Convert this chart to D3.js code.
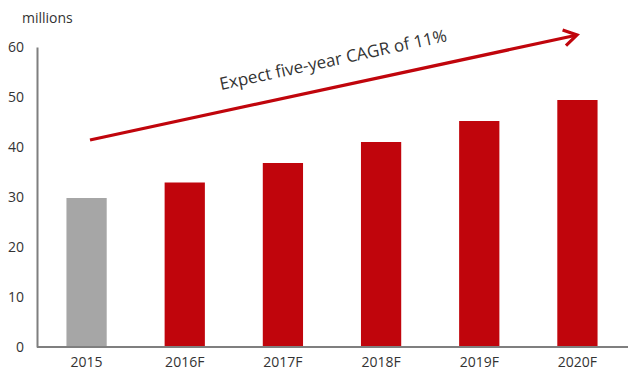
<!DOCTYPE html>
<html>
<head>
<meta charset="utf-8">
<script src="https://cdn.jsdelivr.net/npm/d3@7"></script>
<style>
  body { margin: 0; background: #fff; }
  text { font-family: "Open Sans", "Noto Sans", sans-serif; fill: #333; }
</style>
</head>
<body>
<div class="wrapper"></div>
<script>
var years = ["2015", "2016F", "2017F", "2018F", "2019F", "2020F"];
var users = [29.8, 32.9, 36.8, 41, 45.2, 49.4];
var yTicks = [0, 10, 20, 30, 40, 50, 60];
var note = "Expect five-year CAGR of 11%";

var w = 628, h = 374;
var m = { top: 47, right: 1, bottom: 27, left: 37 };

var svg = d3.select(".wrapper").append("svg")
  .attr("width", w)
  .attr("height", h);

var x = d3.scaleBand().domain(years).range([m.left, w - m.right]).paddingInner(0.59).paddingOuter(0.3);
var y = d3.scaleLinear().domain([0, 60]).range([h - m.bottom, m.top]);

// bars
svg.append("g").selectAll("rect").data(users).enter().append("rect")
  .attr("x", function (d, i) { return x(years[i]); })
  .attr("y", function (d) { return y(d); })
  .attr("width", x.bandwidth())
  .attr("height", function (d) { return y(0) - y(d); })
  .attr("fill", function (d, i) { return i === 0 ? "#a6a6a6" : "#c0050c"; });

// y axis
var ya = svg.append("g")
  .attr("transform", "translate(" + m.left + ",0)")
  .call(d3.axisLeft(y).tickValues(yTicks).tickSize(0).tickPadding(13));
ya.select(".domain").attr("stroke", "#7f7f7f").attr("stroke-width", 2);
ya.selectAll("text").style("font-size", "14px").attr("fill", "#333");

// x axis
var xa = svg.append("g")
  .attr("transform", "translate(0," + y(0) + ")")
  .call(d3.axisBottom(x).tickSize(0).tickPadding(10));
xa.select(".domain").attr("d", "M" + m.left + ",0H" + w).attr("stroke", "#7f7f7f").attr("stroke-width", 2);
xa.selectAll("text").style("font-size", "14px").attr("fill", "#333");

svg.append("text")
  .attr("x", 22).attr("y", 23)
  .style("font-size", "14px")
  .text("millions");

// growth arrow
var a0 = [90, 140], a1 = [577, 35];
var ang = Math.atan2(a1[1] - a0[1], a1[0] - a0[0]) * 180 / Math.PI;
svg.append("line")
  .attr("x1", a0[0]).attr("y1", a0[1])
  .attr("x2", a1[0] - 2).attr("y2", a1[1] + 0.5)
  .attr("stroke", "#c0050c").attr("stroke-width", 3.2);
svg.append("path")
  .attr("transform", "translate(" + a1[0] + "," + a1[1] + ") rotate(" + ang + ")")
  .attr("d", "M-13,-8L0,0L-13,8")
  .attr("fill", "none")
  .attr("stroke", "#c0050c").attr("stroke-width", 3.2);

svg.append("text")
  .attr("transform", "translate(221,90) rotate(" + ang + ")")
  .style("font-size", "17px")
  .attr("fill", "#222")
  .text(note);
</script>
</body>
</html>
